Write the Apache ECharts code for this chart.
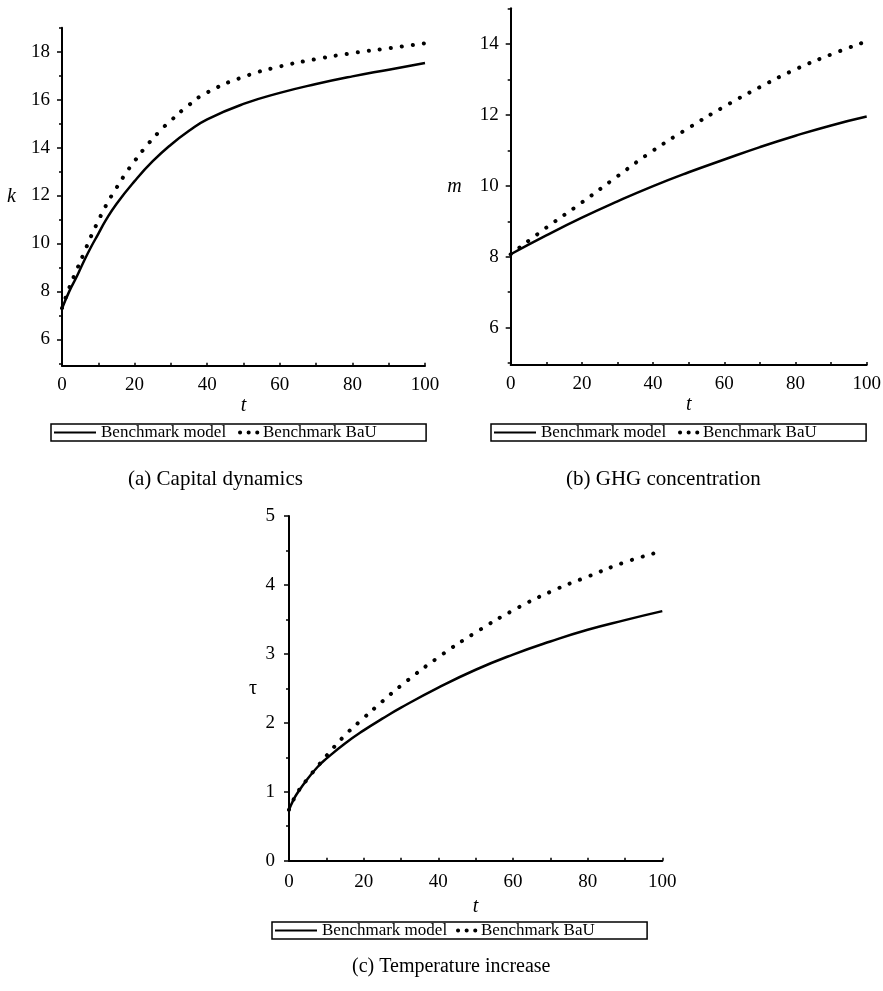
<!DOCTYPE html>
<html>
<head>
<meta charset="utf-8">
<title>Benchmark model vs BaU</title>
<script src="https://cdn.jsdelivr.net/npm/echarts@6/dist/echarts.min.js"></script>
<style>
  html, body { margin: 0; padding: 0; background: #fff; }
  #chart { width: 883px; height: 991px; }
</style>
</head>
<body>
<div id="chart"></div>
<script>
// Time grid (years) and trajectories for each panel
const tCapital = [0, 2, 4, 6, 8, 10, 12, 15, 20, 25, 30, 35, 40, 50, 60, 70, 80, 90, 100];
const kModel   = [7.28, 8.0, 8.6, 9.25, 9.85, 10.4, 10.95, 11.65, 12.6, 13.43, 14.12, 14.7, 15.18, 15.82, 16.28, 16.65, 16.97, 17.25, 17.53];
const tCapitalBaU = [0, 2, 4, 6, 8, 10, 12, 15, 18, 20, 24, 28, 30, 35, 40, 50, 60, 70, 80, 90, 100];
const kBaU     = [7.3, 8.15, 8.88, 9.58, 10.3, 10.94, 11.55, 12.32, 13.02, 13.44, 14.2, 14.85, 15.13, 15.78, 16.3, 16.95, 17.38, 17.69, 17.94, 18.14, 18.35];

const tGhg   = [0, 10, 20, 30, 40, 50, 60, 70, 80, 90, 100];
const mModel = [8.07, 8.6, 9.1, 9.56, 9.99, 10.38, 10.74, 11.09, 11.41, 11.7, 11.95];
const mBaU   = [8.07, 8.82, 9.53, 10.27, 10.99, 11.63, 12.23, 12.78, 13.28, 13.7, 14.07];

const tTemp    = [0, 1, 2, 5, 8, 10, 15, 20, 25, 30, 40, 50, 60, 70, 80, 90, 100];
const tauModel = [0.74, 0.86, 0.96, 1.19, 1.38, 1.48, 1.70, 1.89, 2.06, 2.22, 2.51, 2.77, 2.99, 3.18, 3.35, 3.49, 3.62];
const tauBaU   = [0.74, 0.86, 0.97, 1.19, 1.39, 1.52, 1.82, 2.07, 2.31, 2.54, 2.95, 3.31, 3.63, 3.90, 4.12, 4.33, 4.49];

// Tick values
const kMajor = [6, 8, 10, 12, 14, 16, 18];
const kMinor = [5, 7, 9, 11, 13, 15, 17, 19];
const mMajor = [6, 8, 10, 12, 14];
const mMinor = [5, 7, 9, 11, 13, 15];

const seriesNames = ['Benchmark model', 'Benchmark BaU'];
const captions = ['(a) Capital dynamics', '(b) GHG concentration', '(c) Temperature increase'];

const FONT = '"Liberation Serif", "Times New Roman", serif';
const INK = '#000';

function pairs(xs, ys) { return xs.map((x, i) => [x, ys[i]]); }

function xAxisFor(grid, labelMargin, nameGap) {
  return {
    type: 'value', gridIndex: grid, min: 0, max: 100, interval: 20,
    axisLine: { show: true, onZero: false, lineStyle: { color: INK, width: 2 } },
    axisTick: { show: true, inside: true, length: 3, lineStyle: { color: INK, width: 1.5 } },
    minorTick: { show: true, splitNumber: 2, length: 3, lineStyle: { color: INK, width: 1.5 } },
    splitLine: { show: false },
    axisLabel: { color: INK, fontFamily: FONT, fontSize: 19, margin: labelMargin },
    name: 't', nameLocation: 'middle', nameGap: nameGap, nameMoveOverlap: false,
    nameTextStyle: { color: INK, fontFamily: FONT, fontSize: 20, fontStyle: 'italic' }
  };
}

function yMain(grid, min, max, major, name, nameGap, nameStyle) {
  return {
    type: 'value', gridIndex: grid, position: 'left', min: min, max: max,
    axisLine: { show: true, onZero: false, lineStyle: { color: INK, width: 2 } },
    axisTick: { show: true, length: 5, customValues: major, lineStyle: { color: INK, width: 1.5 } },
    splitLine: { show: false },
    axisLabel: { color: INK, fontFamily: FONT, fontSize: 19, margin: 12, customValues: major },
    name: name, nameLocation: 'middle', nameRotate: 0, nameGap: nameGap, nameMoveOverlap: false,
    nameTextStyle: Object.assign({ color: INK, fontFamily: FONT, fontSize: 20 }, nameStyle)
  };
}

function yMinor(grid, min, max, minor) {
  return {
    type: 'value', gridIndex: grid, position: 'left', min: min, max: max,
    axisLine: { show: false },
    axisTick: { show: true, length: 3, customValues: minor, lineStyle: { color: INK, width: 1.5 } },
    splitLine: { show: false },
    axisLabel: { show: false }
  };
}

const solidStyle = { color: INK, width: 2.5, type: 'solid' };
const dotStyle = { color: INK, width: 4, type: [0.1, 11], cap: 'round' };

function lineSeries(name, xi, yi, data, style) {
  return {
    type: 'line', name: name, xAxisIndex: xi, yAxisIndex: yi,
    data: data, smooth: 0.5, showSymbol: false, symbol: 'none',
    lineStyle: style, itemStyle: { color: INK }, silent: true, animation: false
  };
}

// Legend: a framed box with the solid sample, and a second legend placed inside it for the dotted sample
const hiddenMarker = { color: 'rgba(0,0,0,0)', borderColor: 'rgba(0,0,0,0)', borderWidth: 0, opacity: 0 };
function legendPair(left, top, dottedLeft) {
  const text = { color: INK, fontFamily: FONT, fontSize: 17 };
  return [
    {
      data: [seriesNames[0]], left: left, top: top, orient: 'horizontal',
      itemWidth: 42, itemHeight: 12, padding: [0, 200, 0, 2],
      borderColor: INK, borderWidth: 1.5, selectedMode: false, textStyle: text,
      itemStyle: hiddenMarker
    },
    {
      data: [seriesNames[1]], left: dottedLeft, top: top, orient: 'horizontal',
      itemWidth: 18, itemHeight: 12, padding: 0, selectedMode: false,
      itemStyle: hiddenMarker,
      lineStyle: { type: [0.1, 8.5], width: 4, cap: 'round' }, textStyle: text
    }
  ];
}

const chart = echarts.init(document.getElementById('chart'), null, { renderer: 'canvas' });

chart.setOption({
  animation: false,
  backgroundColor: '#fff',
  grid: [
    { left: 62, top: 27.7, width: 363, height: 338, outerBoundsMode: 'none' },
    { left: 510.7, top: 8.3, width: 356, height: 356.7, outerBoundsMode: 'none' },
    { left: 289, top: 516, width: 373.3, height: 344.7, outerBoundsMode: 'none' }
  ],
  xAxis: [xAxisFor(0, 10, 30), xAxisFor(1, 10, 30), xAxisFor(2, 12, 36)],
  yAxis: [
    yMain(0, 4.9, 19, kMajor, 'k', 46, { fontStyle: 'italic' }),
    yMinor(0, 4.9, 19, kMinor),
    yMain(1, 4.95, 15, mMajor, 'm', 49, { fontStyle: 'italic', padding: [15, 0, 0, 0] }),
    yMinor(1, 4.95, 15, mMinor),
    {
      type: 'value', gridIndex: 2, position: 'left', min: 0, max: 5, interval: 1,
      axisLine: { show: true, onZero: false, lineStyle: { color: INK, width: 2 } },
      axisTick: { show: true, length: 5, lineStyle: { color: INK, width: 1.5 } },
      minorTick: { show: true, splitNumber: 2, length: 3, lineStyle: { color: INK, width: 1.5 } },
      splitLine: { show: false },
      axisLabel: { color: INK, fontFamily: FONT, fontSize: 19, margin: 14 },
      name: 'τ', nameLocation: 'middle', nameRotate: 0, nameGap: 32, nameMoveOverlap: false,
      nameTextStyle: { color: INK, fontFamily: FONT, fontSize: 20, padding: [14, 0, 0, 0] }
    }
  ],
  legend: [].concat(
    legendPair(51, 424, 238),
    legendPair(491, 424, 678),
    legendPair(272, 922, 456)
  ),
  title: [
    { text: captions[0], left: 128, top: 469, size: 21 },
    { text: captions[1], left: 566, top: 469, size: 21 },
    { text: captions[2], left: 352, top: 957, size: 20 }
  ].map(t => ({
    text: t.text, left: t.left, top: t.top, padding: 0,
    textStyle: { color: INK, fontFamily: FONT, fontSize: t.size, fontWeight: 'normal' }
  })),
  series: [
    lineSeries(seriesNames[0], 0, 0, pairs(tCapital, kModel), solidStyle),
    lineSeries(seriesNames[1], 0, 0, pairs(tCapitalBaU, kBaU), dotStyle),
    lineSeries(seriesNames[0], 1, 2, pairs(tGhg, mModel), solidStyle),
    lineSeries(seriesNames[1], 1, 2, pairs(tGhg, mBaU), dotStyle),
    lineSeries(seriesNames[0], 2, 4, pairs(tTemp, tauModel), solidStyle),
    lineSeries(seriesNames[1], 2, 4, pairs(tTemp, tauBaU), dotStyle)
  ]
});
</script>
</body>
</html>
